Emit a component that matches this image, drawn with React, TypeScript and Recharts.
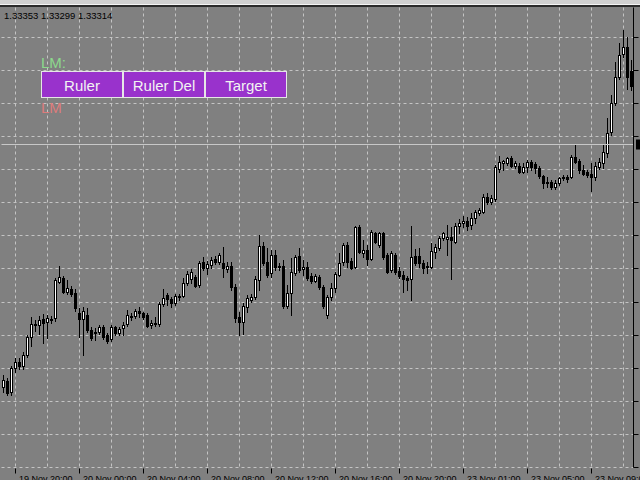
import React from "react";
import { Bar, CartesianGrid, ComposedChart, ReferenceLine, XAxis, YAxis } from "recharts";

// GBPUSD M15, 19 Nov 19:15 -> 23 Nov 11:30 (weekend gap after Fri 22:45)
const opens = [
  1.33013, 1.33019, 1.33008, 1.33032, 1.33038, 1.33034, 1.33045, 1.33063, 1.33075, 1.33075,
  1.33081, 1.33078, 1.33081, 1.33082, 1.33118, 1.33122, 1.33108, 1.33111, 1.33107, 1.33087,
  1.33081, 1.33085, 1.3307, 1.33068, 1.33068, 1.33073, 1.33065, 1.33061, 1.33073, 1.33067,
  1.33072, 1.33076, 1.33084, 1.33084, 1.33089, 1.33087, 1.33085, 1.33075, 1.33076, 1.33076,
  1.33096, 1.33105, 1.33101, 1.33097, 1.33103, 1.33104, 1.33117, 1.33121, 1.33123, 1.33115,
  1.33138, 1.33132, 1.33135, 1.33141, 1.33138, 1.33137, 1.33131, 1.33134, 1.33113, 1.33083,
  1.33078, 1.33093, 1.331, 1.33103, 1.3312, 1.33154, 1.33138, 1.33127, 1.33145, 1.33134,
  1.33134, 1.33094, 1.33107, 1.33127, 1.33144, 1.33131, 1.33133, 1.33124, 1.33119, 1.33123,
  1.33113, 1.33085, 1.33103, 1.33112, 1.33125, 1.33138, 1.33155, 1.33139, 1.33133, 1.33173,
  1.33147, 1.3315, 1.33141, 1.33167, 1.33155, 1.33167, 1.33145, 1.3313, 1.33145, 1.33129,
  1.33125, 1.33122, 1.33121, 1.33144, 1.33144, 1.33137, 1.33134, 1.33133, 1.33148, 1.33152,
  1.33162, 1.33161, 1.33163, 1.33158, 1.33174, 1.33177, 1.33179, 1.33175, 1.33182, 1.33187,
  1.33188, 1.33203, 1.33198, 1.33201, 1.33231, 1.33237, 1.33237, 1.33242, 1.33234, 1.33234,
  1.33228, 1.33233, 1.33238, 1.33236, 1.33232, 1.33224, 1.33218, 1.33218, 1.33213, 1.33217,
  1.33222, 1.33223, 1.33223, 1.33243, 1.33239, 1.3323, 1.33228, 1.33226, 1.33223, 1.33233,
  1.33237, 1.33247, 1.33268, 1.33297, 1.33323, 1.33346, 1.33353, 1.33329,
];
const highs = [
  1.33025, 1.33022, 1.33034, 1.33042, 1.33042, 1.33048, 1.33065, 1.33083, 1.3308, 1.33084,
  1.33086, 1.33085, 1.33084, 1.33122, 1.33134, 1.33124, 1.3312, 1.33114, 1.33111, 1.33092,
  1.33093, 1.33092, 1.33073, 1.33072, 1.33075, 1.33075, 1.33067, 1.33075, 1.33074, 1.33073,
  1.33078, 1.3309, 1.33087, 1.33091, 1.33093, 1.33088, 1.33087, 1.3308, 1.33083, 1.33098,
  1.33111, 1.33107, 1.33103, 1.33106, 1.33106, 1.33122, 1.33129, 1.33131, 1.33125, 1.33139,
  1.33143, 1.33139, 1.33143, 1.33144, 1.33147, 1.33153, 1.33138, 1.33138, 1.33116, 1.33088,
  1.33097, 1.33105, 1.33106, 1.33124, 1.33165, 1.33158, 1.33152, 1.3315, 1.3315, 1.33137,
  1.3314, 1.33115, 1.33142, 1.33145, 1.33152, 1.3314, 1.33138, 1.33127, 1.33126, 1.33125,
  1.33115, 1.33105, 1.33117, 1.33128, 1.33147, 1.33157, 1.33158, 1.33142, 1.33174, 1.33175,
  1.3316, 1.33155, 1.3317, 1.33168, 1.33168, 1.33168, 1.33147, 1.33149, 1.33147, 1.33133,
  1.33129, 1.33124, 1.33174, 1.33151, 1.33152, 1.3314, 1.33138, 1.33157, 1.33156, 1.33164,
  1.33168, 1.33175, 1.33173, 1.33177, 1.33181, 1.33184, 1.33183, 1.33187, 1.3319, 1.33192,
  1.33206, 1.33207, 1.33205, 1.33235, 1.33244, 1.3324, 1.33243, 1.33244, 1.33239, 1.33237,
  1.33237, 1.3324, 1.3324, 1.33238, 1.33234, 1.33225, 1.33223, 1.3322, 1.3322, 1.33223,
  1.33225, 1.33225, 1.33245, 1.33255, 1.33241, 1.33235, 1.3323, 1.33237, 1.33238, 1.33242,
  1.33255, 1.33282, 1.33305, 1.33338, 1.33357, 1.3337, 1.33363, 1.3334,
];
const lows = [
  1.33008, 1.33005, 1.33005, 1.33028, 1.33031, 1.33031, 1.33043, 1.33054, 1.33069, 1.33066,
  1.33057, 1.33062, 1.33077, 1.33079, 1.33117, 1.33107, 1.33106, 1.33104, 1.33089, 1.33063,
  1.33045, 1.33068, 1.3306, 1.3306, 1.33066, 1.33061, 1.33057, 1.33059, 1.33065, 1.33065,
  1.33065, 1.33074, 1.3308, 1.33082, 1.33083, 1.33081, 1.33073, 1.33072, 1.33074, 1.33074,
  1.33094, 1.33095, 1.33093, 1.33095, 1.331, 1.33103, 1.33115, 1.33117, 1.33113, 1.33113,
  1.3313, 1.33126, 1.33132, 1.33136, 1.33136, 1.33123, 1.33128, 1.3311, 1.33078, 1.33065,
  1.33066, 1.33088, 1.33098, 1.33101, 1.3311, 1.33135, 1.33123, 1.33123, 1.3313, 1.3313,
  1.33092, 1.33092, 1.33085, 1.33125, 1.33128, 1.33125, 1.3312, 1.33117, 1.33118, 1.33111,
  1.33092, 1.33082, 1.331, 1.33108, 1.33124, 1.33135, 1.33133, 1.33131, 1.33132, 1.33147,
  1.33143, 1.33135, 1.3314, 1.33157, 1.33153, 1.33141, 1.33127, 1.33128, 1.33126, 1.33122,
  1.33108, 1.3311, 1.331, 1.33135, 1.33133, 1.33127, 1.33127, 1.33132, 1.33142, 1.3315,
  1.3316, 1.33145, 1.33121, 1.33157, 1.33167, 1.33173, 1.3317, 1.33171, 1.33177, 1.33185,
  1.33187, 1.33196, 1.33196, 1.33199, 1.33228, 1.3323, 1.33235, 1.33233, 1.33232, 1.33227,
  1.33227, 1.33228, 1.3323, 1.33227, 1.33222, 1.33212, 1.33213, 1.33211, 1.33211, 1.33215,
  1.3322, 1.33218, 1.33222, 1.33237, 1.33227, 1.33225, 1.33223, 1.33209, 1.3322, 1.33231,
  1.33232, 1.33243, 1.33265, 1.33295, 1.33321, 1.33343, 1.33311, 1.3331,
];
const closes = [
  1.3302, 1.33007, 1.33032, 1.33038, 1.33034, 1.33045, 1.33063, 1.33076, 1.33076, 1.3308,
  1.33077, 1.33082, 1.3308, 1.3312, 1.33123, 1.33108, 1.33112, 1.33106, 1.33092, 1.33081,
  1.33089, 1.3307, 1.33062, 1.33067, 1.33073, 1.33063, 1.33059, 1.33073, 1.33067, 1.33071,
  1.33075, 1.33085, 1.33083, 1.33089, 1.33087, 1.33083, 1.33074, 1.33077, 1.33077, 1.33096,
  1.33102, 1.33101, 1.33097, 1.33104, 1.33104, 1.33117, 1.33126, 1.33128, 1.33114, 1.33137,
  1.33132, 1.33136, 1.3314, 1.33138, 1.33145, 1.33132, 1.33134, 1.33113, 1.33082, 1.33078,
  1.33094, 1.33102, 1.33103, 1.33121, 1.33154, 1.33137, 1.33125, 1.33145, 1.33133, 1.33133,
  1.33094, 1.33107, 1.33128, 1.33143, 1.3313, 1.33133, 1.33122, 1.33119, 1.33124, 1.33113,
  1.33094, 1.33103, 1.33112, 1.33126, 1.33137, 1.33155, 1.33138, 1.33132, 1.33173, 1.33148,
  1.3315, 1.33141, 1.33168, 1.33158, 1.33167, 1.33143, 1.33128, 1.33147, 1.33128, 1.33124,
  1.33121, 1.3312, 1.33143, 1.33137, 1.33137, 1.33132, 1.33133, 1.33149, 1.33153, 1.33162,
  1.33167, 1.33163, 1.3316, 1.33174, 1.33177, 1.33179, 1.33174, 1.33182, 1.33188, 1.3319,
  1.33203, 1.33198, 1.33202, 1.33233, 1.33238, 1.33239, 1.33242, 1.33234, 1.33237, 1.33228,
  1.33233, 1.33238, 1.33233, 1.33232, 1.33224, 1.33217, 1.33217, 1.33213, 1.33217, 1.33222,
  1.33223, 1.33221, 1.33243, 1.33238, 1.3323, 1.33226, 1.33225, 1.33223, 1.33234, 1.33238,
  1.33248, 1.33267, 1.33297, 1.33323, 1.33345, 1.33353, 1.33323, 1.33314,
];

// two trading sessions of 15-minute bars
const sessions = [
  { day: 19, start: 19 * 60 + 15, bars: 111 },
  { day: 23, start: 0, bars: 47 },
];
const pad = (n: number) => String(n).padStart(2, "0");
const times: string[] = [];
sessions.forEach((s) => {
  for (let i = 0; i < s.bars; i++) {
    const m = s.start + i * 15;
    const day = s.day + Math.floor(m / 1440);
    const mm = m % 1440;
    times.push(`${day} Nov ${pad(Math.floor(mm / 60))}:${pad(mm % 60)}`);
  }
});

const tickLabels = [
  "19 Nov 20:00", "20 Nov 00:00", "20 Nov 04:00", "20 Nov 08:00", "20 Nov 12:00",
  "20 Nov 16:00", "20 Nov 20:00", "23 Nov 01:00", "23 Nov 05:00", "23 Nov 09:00",
];
const gridTimes = [
  "19 Nov 20:00", "19 Nov 22:00", "20 Nov 00:00", "20 Nov 02:00", "20 Nov 04:00",
  "20 Nov 06:00", "20 Nov 08:00", "20 Nov 10:00", "20 Nov 12:00", "20 Nov 14:00",
  "20 Nov 16:00", "20 Nov 18:00", "20 Nov 20:00", "20 Nov 22:00", "23 Nov 01:00",
  "23 Nov 03:00", "23 Nov 05:00", "23 Nov 07:00", "23 Nov 09:00", "23 Nov 11:00",
];
const priceGrid = [
  1.33363, 1.3333, 1.33297, 1.33264, 1.33231, 1.33198, 1.33165,
  1.33132, 1.33098, 1.33065, 1.33032, 1.32999, 1.32966, 1.32933,
];
const priceDomain = [1.32933, 1.33393];
const levelLine = 1.33256;
const header = "1.33353 1.33299 1.33314";
const buttons = ["Ruler", "Ruler Del", "Target"];

const data = times.map((time, i) => ({
  time,
  open: opens[i],
  high: highs[i],
  low: lows[i],
  close: closes[i],
}));

const FONT = "'Liberation Sans', Arial, sans-serif";
const row = (v: number) => Math.round(v - 0.5);

function Candle(props: any) {
  const { x, y, width, height, payload } = props;
  const { open, close, high, low } = payload;
  const top = Math.min(y, y + height);
  const bottom = Math.max(y, y + height);
  const toY = (v: number) => (high === low ? top : top + ((high - v) / (high - low)) * (bottom - top));
  const c = Math.floor(x + width / 2);
  const yO = row(toY(open));
  const yC = row(toY(close));
  const bt = Math.min(yO, yC);
  const bb = Math.max(yO, yC);
  const up = close > open;
  return (
    <g>
      <line x1={c + 0.5} x2={c + 0.5} y1={row(top)} y2={row(bottom) + 1} stroke="#000" strokeWidth={1} />
      {up && bb - bt >= 2 ? (
        <rect x={c - 0.5} y={bt + 0.5} width={2} height={bb - bt} fill="#fff" stroke="#000" strokeWidth={1} />
      ) : (
        <rect x={c - 1} y={bt} width={3} height={bb - bt + 1} fill="#000" />
      )}
    </g>
  );
}

function TimeTick(props: any) {
  const { x, y, payload } = props;
  if (!tickLabels.includes(payload.value)) return <g />;
  const px = Math.floor(x) + 0.5;
  return (
    <g>
      <line x1={px} x2={px} y1={y + 1} y2={y + 6} stroke="#000" />
      <text x={px + 3.5} y={y + 14.5} fontSize={9} fontFamily={FONT} fill="#000">
        {payload.value}
      </text>
    </g>
  );
}

const NoLabel = () => <g />;

export default function App() {
  return (
    <div style={{ position: "absolute", left: 0, top: 0, width: 640, height: 480, background: "#808080", overflow: "hidden" }}>
      <ComposedChart
        width={640}
        height={480}
        data={data}
        margin={{ top: 7.5, right: 0, bottom: 0, left: 1.5 }}
        barCategoryGap="10%"
      >
        <CartesianGrid
          stroke="#c4c4c4"
          strokeDasharray="3 3"
          verticalValues={gridTimes}
          horizontalValues={priceGrid}
        />
        <XAxis
          dataKey="time"
          height={12.5}
          interval={0}
          tickLine={false}
          axisLine={false}
          tickSize={0}
          tickMargin={0}
          tick={<TimeTick />}
        />
        <YAxis
          orientation="right"
          width={6.5}
          type="number"
          domain={priceDomain}
          allowDataOverflow
          ticks={priceGrid}
          interval={0}
          tick={<NoLabel />}
          tickSize={5}
          axisLine={{ stroke: "#000" }}
          tickLine={{ stroke: "#000" }}
        />
        <ReferenceLine
          y={levelLine}
          stroke="#c8c8c8"
          label={{
            content: (p: any) => (
              <rect x={p.viewBox.x + p.viewBox.width + 2.5} y={p.viewBox.y - 5} width={10} height={10} fill="#000" />
            ),
          }}
        />
        <Bar
          dataKey={(d: any) => [d.low, d.high]}
          isAnimationActive={false}
          shape={(p: any) => <Candle {...p} />}
        />
      </ComposedChart>
      <svg width={640} height={480} style={{ position: "absolute", left: 0, top: 0, pointerEvents: "none" }} fontFamily={FONT}>
        <rect x={0} y={0} width={640} height={4} fill="#d0d0d0" />
        <rect x={0} y={4} width={640} height={1} fill="#f4f4f4" />
        <rect x={0} y={5} width={640} height={2} fill="#2a2a2a" />
        <text x={4} y={18.5} fontSize={9.5} fill="#000">{header}</text>
        <text x={41} y={68} fontSize={15} fill="#8cd98c">LM:</text>
        {buttons.map((b, i) => (
          <g key={b}>
            <rect x={41.5 + i * 82} y={71.5} width={81} height={26} fill="#9932cc" stroke="#e6e6e6" />
            <text x={82 + i * 82} y={90.5} fontSize={15} fill="#f2f2f2" textAnchor="middle">{b}</text>
          </g>
        ))}
        <text x={41} y={113} fontSize={15} fill="#de7c7c">LM</text>
      </svg>
    </div>
  );
}
